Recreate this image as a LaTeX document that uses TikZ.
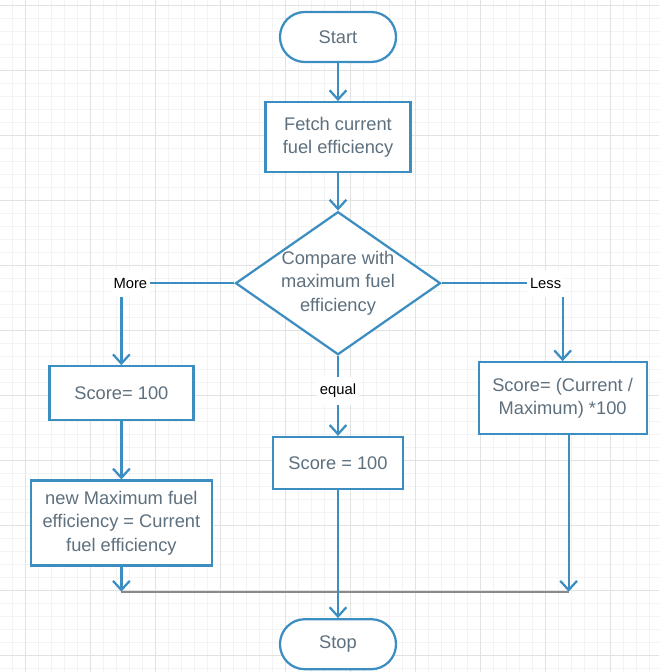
\documentclass[tikz,border=0pt]{standalone}
\usepackage{fontspec}
\setmainfont{Liberation Sans}
\usetikzlibrary{positioning, arrows.meta, shapes.geometric, calc}

\definecolor{flowblue}{HTML}{3C8DC0}
\definecolor{flowtext}{HTML}{5E707E}
\definecolor{gridminor}{HTML}{F3F3F3}
\definecolor{gridmajor}{HTML}{E2E2E2}
\definecolor{joingrey}{HTML}{8A8A8A}

\begin{document}
\begin{tikzpicture}[
    node distance=1cm,
    terminal/.style={draw=flowblue, fill=white, line width=1.6pt, rectangle, rounded corners=0.62cm, minimum width=2.9cm, minimum height=1.25cm, align=center, text=flowtext, font=\fontsize{13}{16.5}\selectfont},
    process/.style={draw=flowblue, fill=white, line width=1.6pt, rectangle, align=center, text=flowtext, font=\fontsize{13}{16.5}\selectfont},
    decision/.style={draw=flowblue, fill=white, line width=1.6pt, diamond, aspect=1.43, inner sep=0pt, minimum width=5.125cm, minimum height=3.575cm, align=center, text=flowtext, font=\fontsize{13}{16.5}\selectfont},
    lbl/.style={fill=white, text=black, inner xsep=2pt, inner ysep=5pt, font=\fontsize{10.5}{12}\selectfont},
    arrow/.style={-{Straight Barb[length=2.3mm, width=4.2mm]}, draw=flowblue, line width=1.6pt},
    joinline/.style={draw=joingrey, line width=1.4pt}
]

% Grid
\useasboundingbox (0,0) rectangle (16.475,-16.8);
\begin{scope}
\clip (0,0) rectangle (16.475,-16.8);
\draw [gridminor, line width=0.5pt, step=0.325cm, shift={(0.625,-0.125)}] (-1,-18) grid (17,1);
\draw [gridmajor, line width=0.7pt, step=1.625cm, shift={(0.625,-0.125)}] (-1,-18) grid (17,1);
\end{scope}

% Nodes
\node (start) [terminal] at (8.45,-0.925) {Start};
\node (fetch) [process, below=0.95cm of start, minimum width=3.625cm, minimum height=1.75cm] {Fetch current\\fuel efficiency};
\node (cmp) [decision, below=0.93cm of fetch] {Compare with\\maximum fuel\\efficiency};

\node (scoreA) [process, below=2.05cm of cmp.west, xshift=-2.825cm, minimum width=3.6cm, minimum height=1.35cm] {Score= 100};
\node (newmax) [process, below=1.45cm of scoreA, minimum width=4.525cm, minimum height=2.125cm] {new Maximum fuel\\efficiency = Current\\fuel efficiency};

\node (scoreB) [process, below=2cm of cmp, minimum width=3.25cm, minimum height=1.3cm] {Score = 100};

\node (scoreC) [process, below=1.95cm of cmp.east, xshift=3.025cm, minimum width=4.2cm, minimum height=1.8cm] {Score= (Current /\\Maximum) *100};

\node (stop) [terminal, below=3.2cm of scoreB] {Stop};

% Join points
\coordinate (joinL) at ($(newmax.south)+(0,-0.625)$);
\coordinate (outR) at ($(scoreC.south)+(0.15,0)$);
\coordinate (joinR) at (outR |- joinL);

% Connections
\draw [arrow] (start) -- (fetch);
\draw [arrow] (fetch) -- (cmp);
\draw [arrow] (cmp.west) -| node[lbl, pos=0.5, xshift=0.225cm, inner ysep=6pt] {More} (scoreA.north);
\draw [arrow] (cmp.south) -- node[lbl, pos=0.44] {equal} (scoreB.north);
\draw [arrow] (cmp.east) -| node[lbl, pos=0.5, xshift=-0.425cm, inner ysep=6pt] {Less} (scoreC.north);
\draw [arrow] (scoreA) -- (newmax);
\draw [joinline] (joinL) -- (joinR);
\draw [arrow] (newmax) -- (joinL);
\draw [arrow] (outR) -- (joinR);
\draw [arrow] (scoreB) -- (stop);

\end{tikzpicture}
\end{document}
